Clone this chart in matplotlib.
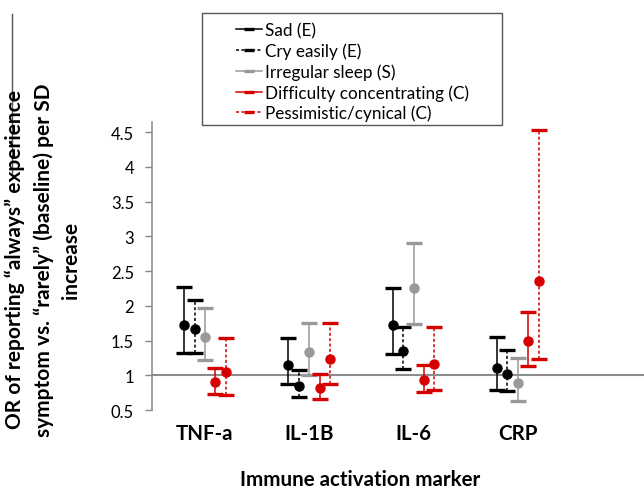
import matplotlib
matplotlib.use("Agg")
import matplotlib.pyplot as plt
from matplotlib.lines import Line2D
from matplotlib.patches import Rectangle
import numpy as np

plt.rcParams['font.family'] = ['Lato', 'DejaVu Sans']

categories = ['TNF-a', 'IL-1B', 'IL-6', 'CRP']
series_names = ['Sad (E)', 'Cry easily (E)', 'Irregular sleep (S)',
                'Difficulty concentrating (C)', 'Pessimistic/cynical (C)']

sad_or = [1.73, 1.15, 1.72, 1.10]
sad_lo = [1.32, 0.87, 1.30, 0.79]
sad_hi = [2.27, 1.53, 2.26, 1.55]
cry_or = [1.67, 0.85, 1.35, 1.02]
cry_lo = [1.32, 0.68, 1.09, 0.77]
cry_hi = [2.08, 1.07, 1.70, 1.36]
sleep_or = [1.55, 1.34, 2.25, 0.89]
sleep_lo = [1.22, 1.01, 1.74, 0.63]
sleep_hi = [1.97, 1.75, 2.91, 1.25]
conc_or = [0.90, 0.82, 0.93, 1.49]
conc_lo = [0.73, 0.66, 0.76, 1.14]
conc_hi = [1.11, 1.02, 1.15, 1.91]
pess_or = [1.05, 1.23, 1.16, 2.36]
pess_lo = [0.72, 0.87, 0.79, 1.23]
pess_hi = [1.54, 1.75, 1.70, 4.53]

y_ticks = [0.5, 1, 1.5, 2, 2.5, 3, 3.5, 4, 4.5]
y_tick_labels = ['0.5', '1', '1.5', '2', '2.5', '3', '3.5', '4', '4.5']

RED = '#d60000'
GRAY = '#999999'
styles = [
    dict(color='black', ls='-'),
    dict(color='black', ls=(0, (2, 1.5))),
    dict(color=GRAY, ls='-'),
    dict(color=RED, ls='-'),
    dict(color=RED, ls=(0, (2, 1.5))),
]
data = [(sad_or, sad_lo, sad_hi), (cry_or, cry_lo, cry_hi),
        (sleep_or, sleep_lo, sleep_hi), (conc_or, conc_lo, conc_hi),
        (pess_or, pess_lo, pess_hi)]
offsets = [-0.2, -0.1, 0.0, 0.1, 0.2]

W, H = 644, 489
fig = plt.figure(figsize=(W / 100, H / 100), dpi=100)
ax = fig.add_axes([152 / W, 1 - 411 / H, (W - 152) / W, (411 - 122.6) / H])

x = np.arange(len(categories))
for (orv, lo, hi), st, off in zip(data, styles, offsets):
    orv = np.array(orv); lo = np.array(lo); hi = np.array(hi)
    eb = ax.errorbar(x + off, orv, yerr=[orv - lo, hi - orv], fmt='o',
                     color=st['color'], ecolor=st['color'], markersize=6.5,
                     elinewidth=1.1, capsize=5.5, capthick=2.4, zorder=3)
    eb[2][0].set_linestyle(st['ls'])

ax.axhline(1, color='#8c8c8c', lw=1.5, zorder=2)

ax.set_xlim(-0.508, 4.21)
ax.set_ylim(0.5, 4.65)
ax.set_yticks(y_ticks)
ax.set_yticklabels(y_tick_labels, fontsize=12)
ax.set_xticks(x)
ax.set_xticklabels(categories, fontsize=14.8, fontweight='bold')
ax.tick_params(axis='x', length=0, pad=9)
ax.tick_params(axis='y', length=5, width=1, color='#888888', pad=8)
for s in ['top', 'right', 'bottom']:
    ax.spines[s].set_visible(False)
ax.spines['left'].set_color('#888888')
ax.spines['left'].set_linewidth(1.1)

fig.text(43 / W, 1 - 260 / H,
         'OR of reporting \u201calways\u201d experience\nsymptom vs. \u201crarely\u201d (baseline) per SD\nincrease',
         rotation=90, ha='center', va='center', multialignment='center',
         fontsize=15, fontweight='bold', linespacing=1.46)
fig.text(360 / W, 1 - 480 / H, 'Immune activation marker', ha='center', va='center',
         fontsize=14.8, fontweight='bold')

fig.add_artist(Line2D([12 / W, 12 / W], [1 - 15 / H, 1 - 178 / H], color='#555555',
                      lw=1, transform=fig.transFigure))
fig.add_artist(Rectangle((202 / W, 1 - 126 / H), 300 / W, 112 / H, fill=False,
                         ec='#555555', lw=1, transform=fig.transFigure))

handles = [Line2D([0], [0], color=st['color'], ls=st['ls'], lw=1.1, marker='_',
                  markersize=7, markeredgewidth=2.4) for st in styles]
fig.legend(handles, series_names, loc='upper left',
           bbox_to_anchor=(236 / W, 1 - 23 / H), frameon=False, fontsize=12.3,
           handlelength=1.5, handletextpad=0.2, labelspacing=0.25,
           borderpad=0, borderaxespad=0)

fig.savefig('out.png', dpi=100)
